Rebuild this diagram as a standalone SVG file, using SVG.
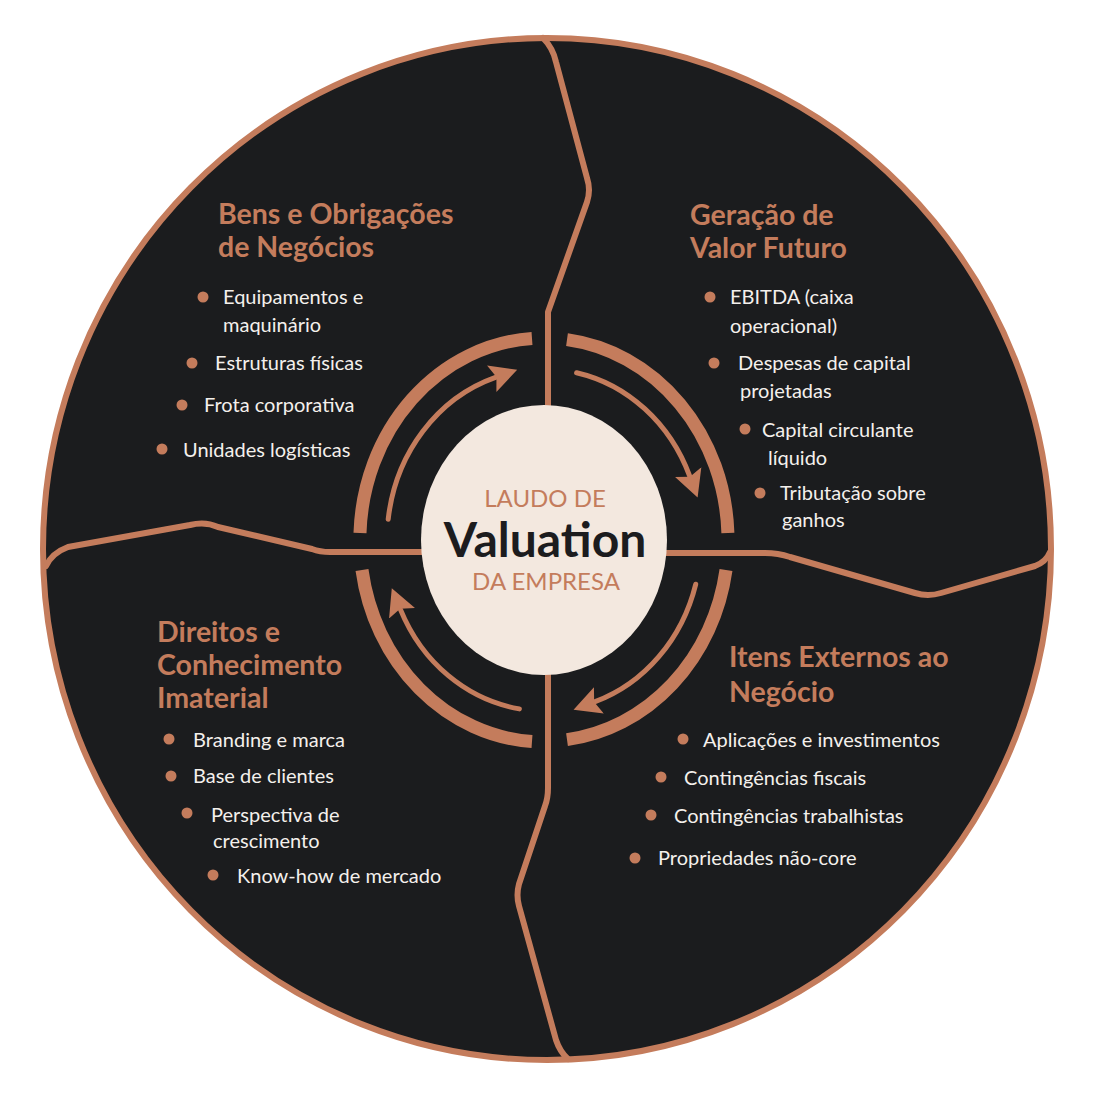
<svg xmlns="http://www.w3.org/2000/svg" width="1100" height="1100" viewBox="0 0 1100 1100">
<style>
.cu{stroke:#c47c5c;fill:none}
.div{stroke:#c47c5c;stroke-width:6;fill:none;stroke-linejoin:round;stroke-linecap:round}
.ring{stroke:#c47c5c;stroke-width:13;fill:none}
.arr{stroke:#c47c5c;stroke-width:5;fill:none;stroke-linecap:round}
.title{font-family:Lato,"Open Sans",sans-serif;font-weight:700;font-size:28.5px;fill:#c47c5c}
.item{font-family:Lato,"Open Sans",sans-serif;font-size:20px;fill:#f4f0ec}
.dot{fill:#c47c5c}
.ctr{font-family:Lato,"Open Sans",sans-serif;text-anchor:middle}
</style>
<defs>
<marker id="ah" markerUnits="userSpaceOnUse" markerWidth="30" markerHeight="30" viewBox="0 0 30 30" refX="4" refY="15" orient="auto">
<path d="M0,1 L27,15 L0,29 L5,15 z" fill="#c47c5c"/>
</marker>
</defs>
<rect width="1100" height="1100" fill="#ffffff"/>
<ellipse cx="547" cy="549" rx="504" ry="511" fill="#1b1c1e" stroke="#c47c5c" stroke-width="6"/>
<g id="connectors">
<path class="div" d="M543,38 Q553,48 556,62 L587,178 Q591,190 587,202 L548,312 L548,420"/>
<path class="div" d="M548,670 L548,788 Q548,798 545,806 L519,884 Q516,895 519,906 L556,1040 Q560,1052 568,1059"/>
<path class="div" d="M46,566 Q52,553 68,547 L190,525 Q205,521 218,527 L312,549 Q320,552 330,552 L425,552"/>
<path class="div" d="M665,553 L765,553 Q778,553 790,557 L915,593 Q928,597 941,593 L1035,566 Q1046,562 1050,552"/>
<path class="ring" d="M360,533 A184,202 0 0 1 532,338.4"/>
<path class="ring" d="M567,339.6 A184,202 0 0 1 727.9,533"/>
<path class="ring" d="M726,570 A184,202 0 0 1 567,739.6"/>
<path class="ring" d="M532,741.6 A184,202 0 0 1 362,570"/>
<path class="arr" marker-end="url(#ah)" d="M388.2,519.2 A157,171 0 0 1 495.5,377.4"/>
<path class="arr" marker-end="url(#ah)" d="M576.6,372.7 A157,171 0 0 1 689.6,475.9"/>
<path class="arr" marker-end="url(#ah)" d="M695.7,584.3 A157,171 0 0 1 595.1,701.7"/>
<path class="arr" marker-end="url(#ah)" d="M519.4,708.9 A157,171 0 0 1 400.5,609.6"/>
</g>
<g id="center">
<ellipse cx="544" cy="540" rx="123" ry="135" fill="#f3e8df"/>
<text class="ctr" x="545" y="507" font-size="24" fill="#c47c5c">LAUDO DE</text>
<text class="ctr" x="545" y="557" font-size="48" font-weight="700" fill="#1c1c1e">Valuation</text>
<text class="ctr" x="546" y="590" font-size="24" fill="#c47c5c">DA EMPRESA</text>
</g>
<g id="q-bens">
<text class="title" x="218" y="224">Bens e Obrigações</text>
<text class="title" x="218" y="257">de Negócios</text>
<circle class="dot" cx="203" cy="297" r="5.5"/>
<text class="item" x="223" y="304">Equipamentos e</text>
<text class="item" x="223" y="332">maquinário</text>
<circle class="dot" cx="192" cy="363" r="5.5"/>
<text class="item" x="215" y="370">Estruturas físicas</text>
<circle class="dot" cx="182" cy="405" r="5.5"/>
<text class="item" x="204" y="412">Frota corporativa</text>
<circle class="dot" cx="162" cy="449" r="5.5"/>
<text class="item" x="183" y="457">Unidades logísticas</text>
</g>
<g id="q-geracao">
<text class="title" x="690" y="225">Geração de</text>
<text class="title" x="690" y="258">Valor Futuro</text>
<circle class="dot" cx="710" cy="297" r="5.5"/>
<text class="item" x="730" y="304">EBITDA (caixa</text>
<text class="item" x="730" y="333">operacional)</text>
<circle class="dot" cx="714" cy="363" r="5.5"/>
<text class="item" x="738" y="370">Despesas de capital</text>
<text class="item" x="740" y="398">projetadas</text>
<circle class="dot" cx="745" cy="429" r="5.5"/>
<text class="item" x="762" y="437">Capital circulante</text>
<text class="item" x="768" y="465">líquido</text>
<circle class="dot" cx="760" cy="493" r="5.5"/>
<text class="item" x="780" y="500">Tributação sobre</text>
<text class="item" x="782" y="527">ganhos</text>
</g>
<g id="q-direitos">
<text class="title" x="157" y="642">Direitos e</text>
<text class="title" x="157" y="675">Conhecimento</text>
<text class="title" x="157" y="708">Imaterial</text>
<circle class="dot" cx="169" cy="739" r="5.5"/>
<text class="item" x="193" y="747">Branding e marca</text>
<circle class="dot" cx="171" cy="776" r="5.5"/>
<text class="item" x="193" y="783">Base de clientes</text>
<circle class="dot" cx="187" cy="813" r="5.5"/>
<text class="item" x="211" y="822">Perspectiva de</text>
<text class="item" x="213" y="848">crescimento</text>
<circle class="dot" cx="213" cy="875" r="5.5"/>
<text class="item" x="237" y="883">Know-how de mercado</text>
</g>
<g id="q-externos">
<text class="title" x="729" y="667">Itens Externos ao</text>
<text class="title" x="729" y="702">Negócio</text>
<circle class="dot" cx="683" cy="739" r="5.5"/>
<text class="item" x="703" y="747">Aplicações e investimentos</text>
<circle class="dot" cx="661" cy="777" r="5.5"/>
<text class="item" x="684" y="785">Contingências fiscais</text>
<circle class="dot" cx="651" cy="815" r="5.5"/>
<text class="item" x="674" y="823">Contingências trabalhistas</text>
<circle class="dot" cx="635" cy="858" r="5.5"/>
<text class="item" x="658" y="865">Propriedades não-core</text>
</g>
</svg>
